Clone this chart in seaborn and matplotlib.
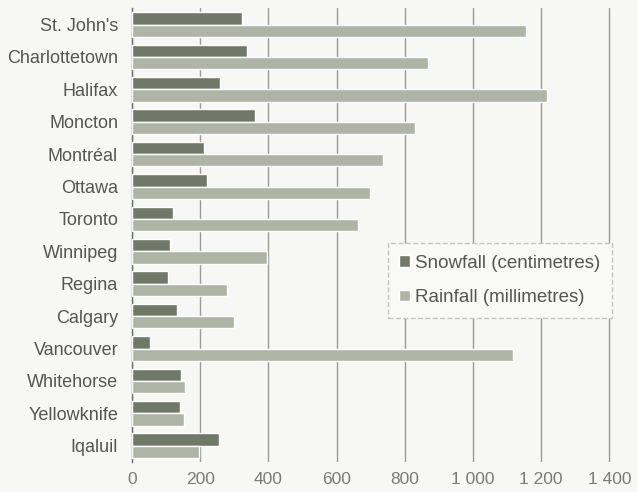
import matplotlib
matplotlib.use("Agg")
import matplotlib.pyplot as plt
import seaborn as sns
import pandas as pd

# Annual precipitation by city
cities = ["St. John's", "Charlottetown", "Halifax", "Moncton", "Montréal", "Ottawa",
          "Toronto", "Winnipeg", "Regina", "Calgary", "Vancouver", "Whitehorse",
          "Yellowknife", "Iqaluil"]
snowfall_cm = [322, 337, 258, 362, 211, 219, 121, 111, 105, 133, 53, 143, 141, 255]
rainfall_mm = [1157, 867, 1217, 831, 735, 698, 664, 395, 278, 299, 1117, 155, 153, 197]
series_names = ["Snowfall (centimetres)", "Rainfall (millimetres)"]
x_ticks = [0, 200, 400, 600, 800, 1000, 1200, 1400]
x_tick_labels = ["0", "200", "400", "600", "800", "1 000", "1 200", "1 400"]

df = pd.DataFrame({
    "city": cities * 2,
    "measure": [series_names[0]] * len(cities) + [series_names[1]] * len(cities),
    "value": snowfall_cm + rainfall_mm,
})

sns.set_theme(style="white")
plt.rcParams["font.family"] = ["Liberation Sans", "DejaVu Sans"]

fig = plt.figure(figsize=(6.37, 4.92), dpi=100, facecolor="#f7f7f5")
ax = fig.add_axes([0.2072, 0.061, 0.7515, 0.922])
ax.set_facecolor("#f7f7f5")

sns.barplot(data=df, y="city", x="value", hue="measure", orient="h",
            palette=["#727868", "#b0b4a6"], saturation=1, width=0.76,
            order=cities, hue_order=series_names, ax=ax, zorder=3)

ax.set_xlim(0, 1404)
ax.set_ylim(len(cities) - 0.5, -0.5)
ax.set_xticks(x_ticks)
ax.set_xticklabels(x_tick_labels)
ax.set_xlabel("")
ax.set_ylabel("")

ax.grid(axis="x", color="#9a9a9a", linewidth=1.0, zorder=0)
ax.grid(axis="y", visible=False)
ax.set_axisbelow(True)
for side in ("top", "right", "bottom"):
    ax.spines[side].set_visible(False)
ax.spines["left"].set_color("#6a6a6a")
ax.spines["left"].set_linewidth(1.0)

ax.tick_params(axis="y", length=0, pad=10, labelsize=13, labelcolor="#555555")
ax.tick_params(axis="x", length=0, pad=7, labelsize=12.5, labelcolor="#7a7a7a")

leg = ax.legend(loc="upper left", bbox_to_anchor=(0.535, 0.482), frameon=True,
                fontsize=13.5, handlelength=0.55, handleheight=0.55, handletextpad=0.3,
                labelspacing=0.95, borderpad=0.6, borderaxespad=0, fancybox=False)
leg.get_frame().set_edgecolor("#c4c4c4")
leg.get_frame().set_facecolor("#f9f9f8")
leg.get_frame().set_linestyle("--")
leg.get_frame().set_alpha(1)
for t in leg.get_texts():
    t.set_color("#555555")

fig.savefig("out.png", dpi=100, facecolor=fig.get_facecolor())
